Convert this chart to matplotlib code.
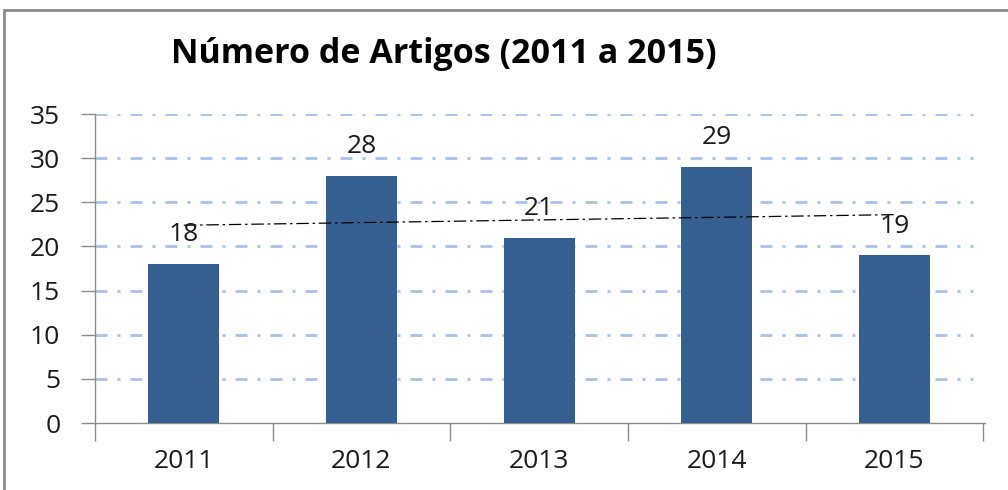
import numpy as np
import matplotlib.pyplot as plt
from matplotlib.patches import Rectangle

anos = ['2011', '2012', '2013', '2014', '2015']
artigos = [18, 28, 21, 29, 19]

plt.rcParams['font.family'] = ['Open Sans', 'DejaVu Sans']

fig = plt.figure(figsize=(10.08, 4.9), dpi=100)
ax = fig.add_axes([95 / 1008, 67 / 490, 890 / 1008, 309 / 490])

# moldura do gráfico
fig.patches.append(Rectangle((4 / 1008, -0.1), 1.2, 1.1 - 10 / 490,
                             transform=fig.transFigure, fill=False,
                             edgecolor='#8c8c8c', lw=2))

x = np.arange(len(anos))
ax.bar(x, artigos, width=0.4, color='#355F91', zorder=3)

for xi, v in zip(x, artigos):
    ax.annotate(str(v), (xi, v), xytext=(0, 21), textcoords='offset points',
                ha='center', va='center', fontsize=19, color='#1a1a1a',
                zorder=5)

# linha de tendência linear
a, b = np.polyfit(x, artigos, 1)
ax.plot(x, a * x + b, color='black', lw=0.9, ls=(0, (10, 3, 2, 3)), zorder=4)

ax.set_xlim(-0.5, 4.51)
ax.set_ylim(0, 35)
ax.set_yticks(range(0, 36, 5))
for yv in range(5, 36, 5):
    ax.axhline(yv, color='#abc1e8', lw=2.0, ls=(0, (4.3, 3.6, 1.1, 3.6)),
               zorder=1, xmax=0.986)

ax.set_xticks(x)
ax.set_xticklabels(anos)
ax.set_xticks(np.arange(-0.5, 5, 1), minor=True)
ax.tick_params(axis='x', which='major', length=0, pad=19, labelsize=19,
               labelcolor='#1a1a1a')
ax.tick_params(axis='x', which='minor', length=13, color='#8c8c8c', width=1)
ax.tick_params(axis='y', length=10, color='#8c8c8c', width=1, labelsize=19,
               labelcolor='#1a1a1a', pad=15)

for s in ['top', 'right']:
    ax.spines[s].set_visible(False)
for s in ['left', 'bottom']:
    ax.spines[s].set_color('#8c8c8c')
    ax.spines[s].set_linewidth(1)

fig.text(0.44, 0.889, 'Número de Artigos (2011 a 2015)', ha='center',
         va='center', fontsize=24.5, fontweight='bold', color='black')

fig.savefig('out.png', dpi=100)
